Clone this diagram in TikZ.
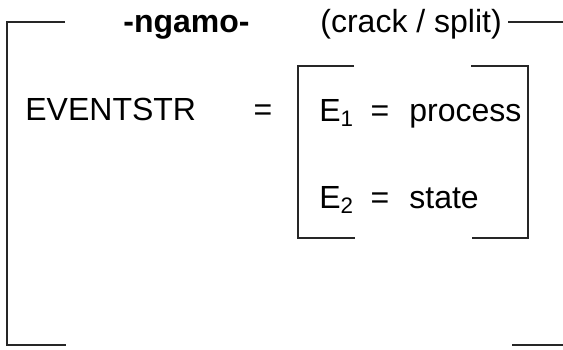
\documentclass[tikz,border=0pt]{standalone}
\usepackage{fontspec}
\setmainfont{Liberation Sans}
\usepackage{tikz}
\usetikzlibrary{positioning}

\tikzset{
  word/.style={inner sep=0pt, anchor=base west, font=\fontsize{16}{19}\selectfont},
  bar/.style={line width=0.9pt, black!85}
}

\begin{document}
\begin{tikzpicture}[x=0.5pt, y=-0.5pt]
\useasboundingbox (0,0) rectangle (563,349);

% ── Heading ───────────────────────────────────────────────────────
\node[word, font=\fontsize{16}{19}\selectfont\bfseries] (root) at (123,32) {-ngamo-};
\node[word] (gloss) at (320,32) {(crack / split)};

% ── Left side ─────────────────────────────────────────────────────
\node[word] (lhs) at (25,120) {EVENTSTR};
\node[word, anchor=base] (eq) at (263,120) {=};

% ── Inner matrix ──────────────────────────────────────────────────
\node[word] (e1) at (319,121) {E\textsubscript{1}};
\node[word, anchor=base] (eq1) at (380,121) {=};
\node[word] (proc) at (409,121) {process};

\node[word] (e2) at (319,208) {E\textsubscript{2}};
\node[word, anchor=base] (eq2) at (380,208) {=};
\node[word] (stat) at (409,208) {state};

% inner brackets
\draw[bar] (354,66) -- (298,66) -- (298,238) -- (355,238);
\draw[bar] (471,66) -- (528,66) -- (528,238) -- (472,238);

% ── Outer frame ───────────────────────────────────────────────────
\draw[bar] (65,22) -- (7,22) -- (7,345) -- (66,345);
\draw[bar] (508,22) -- (563,22);
\draw[bar] (512,345) -- (563,345);

\end{tikzpicture}
\end{document}
